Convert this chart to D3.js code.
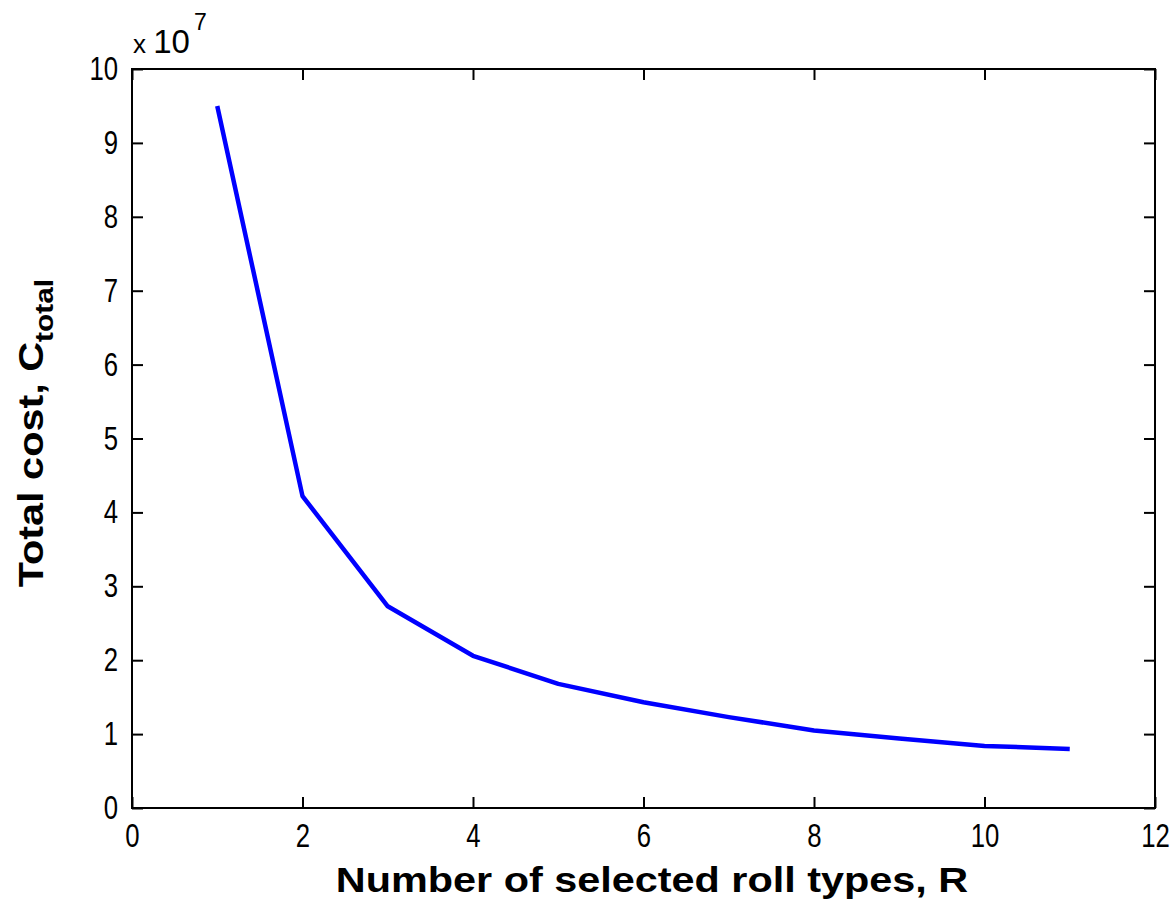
<!DOCTYPE html>
<html>
<head>
<meta charset="utf-8">
<script src="https://cdn.jsdelivr.net/npm/d3@7"></script>
<style>
  body { margin: 0; background: #fff; }
  .tick text { font-family: "Liberation Sans", Arial, sans-serif; font-size: 33px; fill: #000; }
</style>
</head>
<body>
<div id="chart"></div>
<script>
// roll types vs total cost (in units of 1e7)
var rollTypes = [1, 2, 3, 4, 5, 6, 7, 8, 9, 10, 11];
var totalCost = [9.5, 4.22, 2.73, 2.06, 1.68, 1.43, 1.23, 1.05, 0.94, 0.84, 0.8];
var xTicks = [0, 2, 4, 6, 8, 10, 12];
var yTicks = [0, 1, 2, 3, 4, 5, 6, 7, 8, 9, 10];

var width = 1176, height = 899;
var mLeft = 132, mRight = 1155, mTop = 69, mBottom = 808;
var squeeze = 0.78; // tick digits in the picture are narrow
var stretch = 1.15; // axis titles are wide

var svg = d3.select("#chart")
	.append("svg")
	.attr("width", width)
	.attr("height", height);

var x = d3.scaleLinear().domain([0, 12]).range([mLeft, mRight]);
var y = d3.scaleLinear().domain([0, 10]).range([mBottom, mTop]);

var tick = 11;

var gx = svg.append("g")
	.attr("transform", "translate(0," + mBottom + ")")
	.call(d3.axisBottom(x).tickValues(xTicks).tickSizeInner(-tick).tickSizeOuter(0).tickPadding(16));
var gy = svg.append("g")
	.attr("transform", "translate(" + mLeft + ",0)")
	.call(d3.axisLeft(y).tickValues(yTicks).tickSizeInner(-tick).tickSizeOuter(0).tickPadding(14));
var gt = svg.append("g")
	.attr("transform", "translate(0," + mTop + ")")
	.call(d3.axisTop(x).tickValues(xTicks).tickSizeInner(-tick).tickSizeOuter(0).tickFormat(""));
var gr = svg.append("g")
	.attr("transform", "translate(" + mRight + ",0)")
	.call(d3.axisRight(y).tickValues(yTicks).tickSizeInner(-tick).tickSizeOuter(0).tickFormat(""));

[gx, gy, gt, gr].forEach(function(g) {
	g.select(".domain").remove();
	g.selectAll(".tick line").attr("stroke", "#000").attr("stroke-width", 2);
});

// narrow the tick labels
gy.selectAll(".tick text")
	.attr("x", -14 / squeeze)
	.attr("transform", "scale(" + squeeze + ",1)");
gx.selectAll(".tick text")
	.attr("transform", "scale(" + squeeze + ",1)");

// box
svg.append("rect")
	.attr("x", mLeft).attr("y", mTop)
	.attr("width", mRight - mLeft).attr("height", mBottom - mTop)
	.attr("fill", "none").attr("stroke", "#000").attr("stroke-width", 2);

// exponent label
var ex = svg.append("text")
	.attr("x", 133)
	.attr("y", 53)
	.attr("font-family", "'Liberation Sans', Arial, sans-serif")
	.attr("font-size", 33)
	.attr("fill", "#000");
ex.append("tspan").attr("font-size", 26).text("x ");
ex.append("tspan").text("10");
ex.append("tspan").attr("font-size", 23).attr("dx", 4).attr("dy", -23).text("7");

// curve
var line = d3.line()
	.x(function(d, i) { return x(rollTypes[i]); })
	.y(function(d) { return y(d); });

svg.append("path")
	.datum(totalCost)
	.attr("fill", "none")
	.attr("stroke", "#0000ff")
	.attr("stroke-width", 4.5)
	.attr("stroke-linejoin", "round")
	.attr("d", line);

// axis labels
svg.append("text")
	.attr("transform", "translate(652,892) scale(" + stretch + ",1)")
	.attr("text-anchor", "middle")
	.attr("font-family", "'Liberation Sans', Arial, sans-serif")
	.attr("font-weight", "bold")
	.attr("font-size", 36)
	.text("Number of selected roll types, R");

var yl = svg.append("text")
	.attr("transform", "translate(43,433) rotate(-90) scale(" + stretch + ",1)")
	.attr("text-anchor", "middle")
	.attr("font-family", "'Liberation Sans', Arial, sans-serif")
	.attr("font-weight", "bold")
	.attr("font-size", 36);
yl.append("tspan").text("Total cost, C");
yl.append("tspan").attr("font-size", 26).attr("dy", 10).text("total");
</script>
</body>
</html>
